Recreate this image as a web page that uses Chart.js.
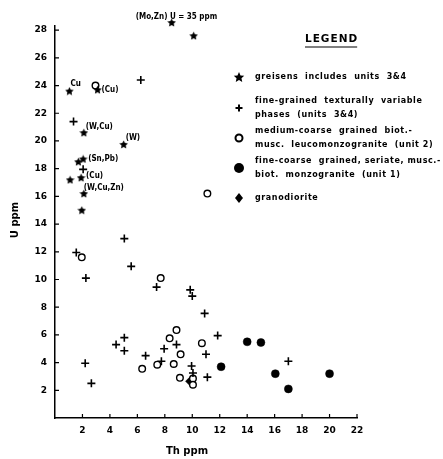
<!DOCTYPE html>
<html>
<head>
<meta charset="utf-8">
<script src="https://cdn.jsdelivr.net/npm/chart.js@4"></script>
<style>
  html, body { margin: 0; padding: 0; background: #fff; }
  #wrap { width: 443px; height: 459px; position: relative; }
</style>
</head>
<body>
<div id="wrap"><canvas id="c" width="443" height="459"></canvas></div>
<script>
// Th ppm (x) vs U ppm (y)
const greisenTh = [8.5, 10.1, 1.05, 3.1, 2.1, 5.0, 1.7, 2.05, 1.9, 1.1, 2.1, 1.95];
const greisenU  = [28.55, 27.6, 23.6, 23.7, 20.6, 19.75, 18.5, 18.7, 17.35, 17.2, 16.2, 15.0];
const greisenNotes = ['(Mo,Zn) U = 35 ppm', '', 'Cu', '(Cu)', '(W,Cu)', '(W)', '', '(Sn,Pb)', '(Cu)', '', '(W,Cu,Zn)', ''];

const fineTh = [6.25, 1.35, 2.05, 1.55, 2.25, 5.05, 5.55, 7.4, 9.85, 10.0, 10.9, 4.45, 5.05, 5.05, 6.6,
                7.95, 7.75, 8.85, 2.2, 2.65, 9.95, 10.05, 11.85, 11.0, 11.1, 17.0];
const fineU  = [24.4, 21.4, 17.95, 11.95, 10.1, 12.95, 10.95, 9.45, 9.25, 8.8, 7.55, 5.3, 5.8, 4.85, 4.5,
                5.0, 4.1, 5.3, 3.95, 2.5, 3.75, 3.25, 5.95, 4.6, 2.95, 4.1];

const unit2Th = [2.95, 11.1, 1.95, 7.7, 8.85, 8.35, 9.15, 7.45, 8.65, 6.35, 9.1, 10.05, 10.05, 10.7];
const unit2U  = [24.0, 16.2, 11.6, 10.1, 6.35, 5.75, 4.6, 3.85, 3.9, 3.55, 2.9, 2.85, 2.4, 5.4];

const unit1Th = [14.0, 15.0, 12.1, 16.05, 17.0, 20.0];
const unit1U  = [5.5, 5.45, 3.7, 3.2, 2.1, 3.2];

const granoTh = [9.8];
const granoU  = [2.65];

const xTicks = [2, 4, 6, 8, 10, 12, 14, 16, 18, 20, 22];
const yTicks = [2, 4, 6, 8, 10, 12, 14, 16, 18, 20, 22, 24, 26, 28];

const legendItems = [
  { style: 'star',   lines: ['greisens  includes  units  3&4'] },
  { style: 'cross',  lines: ['fine-grained  texturally  variable', 'phases  (units  3&4)'] },
  { style: 'open',   lines: ['medium-coarse  grained  biot.-', 'musc.  leucomonzogranite  (unit 2)'] },
  { style: 'filled', lines: ['fine-coarse  grained, seriate, musc.-', 'biot.  monzogranite  (unit 1)'] },
  { style: 'diamond', lines: ['granodiorite'] }
];

const FONT = '"DejaVu Sans", sans-serif';
const FONT_C = '"DejaVu Sans Condensed", "DejaVu Sans", sans-serif';

function pts(xs, ys) { return xs.map((x, i) => ({ x: x, y: ys[i] })); }

// filled five-point star as a point image
function starPath(ctx, cx, cy, R, r) {
  ctx.beginPath();
  for (let i = 0; i < 10; i++) {
    const a = -Math.PI / 2 + i * Math.PI / 5;
    const rad = i % 2 === 0 ? R : r;
    const px = cx + rad * Math.cos(a), py = cy + rad * Math.sin(a);
    if (i === 0) ctx.moveTo(px, py); else ctx.lineTo(px, py);
  }
  ctx.closePath();
}
const starImg = document.createElement('canvas');
starImg.width = 9; starImg.height = 9;
(function () {
  const g = starImg.getContext('2d');
  g.fillStyle = '#000';
  starPath(g, 4.5, 4.9, 4.5, 2.2);
  g.fill();
})();

function drawMarker(ctx, style, x, y) {
  ctx.save();
  ctx.fillStyle = '#000';
  ctx.strokeStyle = '#000';
  if (style === 'star') {
    starPath(ctx, x, y + 0.5, 5.5, 2.6);
    ctx.fill();
  } else if (style === 'cross') {
    ctx.lineWidth = 2;
    ctx.beginPath();
    ctx.moveTo(x - 3.5, y); ctx.lineTo(x + 3.5, y);
    ctx.moveTo(x, y - 3.5); ctx.lineTo(x, y + 3.5);
    ctx.stroke();
  } else if (style === 'open') {
    ctx.lineWidth = 2;
    ctx.beginPath(); ctx.arc(x, y, 3.5, 0, Math.PI * 2); ctx.stroke();
  } else if (style === 'filled') {
    ctx.beginPath(); ctx.arc(x, y, 5, 0, Math.PI * 2); ctx.fill();
  } else if (style === 'diamond') {
    ctx.beginPath();
    ctx.moveTo(x, y - 5); ctx.lineTo(x + 4, y); ctx.lineTo(x, y + 5); ctx.lineTo(x - 4, y);
    ctx.closePath(); ctx.fill();
  }
  ctx.restore();
}

// annotations, legend, axis titles and inward tick marks
const extras = {
  id: 'extras',
  afterDraw(chart) {
    const ctx = chart.ctx;
    const xs = chart.scales.x, ys = chart.scales.y;
    const ax = xs.left, ay = ys.bottom;
    ctx.save();
    ctx.strokeStyle = '#000';
    ctx.lineWidth = 1.2;
    ctx.beginPath();
    yTicks.forEach(v => { const p = ys.getPixelForValue(v); ctx.moveTo(ax, p); ctx.lineTo(ax + 4, p); });
    xTicks.forEach(v => { const p = xs.getPixelForValue(v); ctx.moveTo(p, ay); ctx.lineTo(p, ay - 4); });
    ctx.stroke();

    ctx.fillStyle = '#000';
    ctx.textBaseline = 'middle';
    ctx.textAlign = 'left';
    ctx.font = 'bold 8px ' + FONT_C;
    const offs = [[-36, -6], null, [1, -7], [4, 0], [2, -6], [2, -7], null, [5, 0], [5, -2], null, [0, -6], null];
    greisenNotes.forEach((t, i) => {
      if (!t) return;
      const px = xs.getPixelForValue(greisenTh[i]), py = ys.getPixelForValue(greisenU[i]);
      ctx.fillText(t, px + offs[i][0], py + offs[i][1]);
    });

    // axis titles
    ctx.font = 'bold 10px ' + FONT;
    ctx.textAlign = 'center';
    ctx.fillText('Th ppm', 187, 451);
    ctx.save();
    ctx.translate(15, 220);
    ctx.rotate(-Math.PI / 2);
    ctx.fillText('U ppm', 0, 0);
    ctx.restore();

    // legend
    ctx.font = 'bold 10.5px ' + FONT;
    ctx.textAlign = 'left';
    ctx.letterSpacing = '1px';
    const lw = ctx.measureText('LEGEND').width;
    ctx.fillText('LEGEND', 305, 39);
    ctx.lineWidth = 1.2;
    ctx.beginPath(); ctx.moveTo(305, 47); ctx.lineTo(305 + lw - 1, 47); ctx.stroke();

    ctx.font = 'bold 8px ' + FONT;
    ctx.letterSpacing = '0.6px';
    const rowY = [77, 108, 138, 168, 198];
    legendItems.forEach((it, i) => {
      drawMarker(ctx, it.style, 239, rowY[i]);
      if (it.lines.length === 1) {
        ctx.fillText(it.lines[0], 255, rowY[i]);
      } else {
        ctx.fillText(it.lines[0], 255, rowY[i] - 7);
        ctx.fillText(it.lines[1], 255, rowY[i] + 7);
      }
    });
    ctx.letterSpacing = '0px';
    ctx.restore();
  }
};

new Chart(document.getElementById('c').getContext('2d'), {
  type: 'scatter',
  data: {
    datasets: [
      { label: 'greisens', data: pts(greisenTh, greisenU), pointStyle: starImg, clip: false },
      { label: 'fine-grained', data: pts(fineTh, fineU), pointStyle: 'cross', pointRadius: 4,
        borderColor: '#000', borderWidth: 1.6, clip: false },
      { label: 'unit 2', data: pts(unit2Th, unit2U), pointStyle: 'circle', pointRadius: 3.3,
        backgroundColor: '#fff', borderColor: '#000', borderWidth: 1.4, clip: false },
      { label: 'unit 1', data: pts(unit1Th, unit1U), pointStyle: 'circle', pointRadius: 4,
        backgroundColor: '#000', borderColor: '#000', borderWidth: 0.5, clip: false },
      { label: 'granodiorite', data: pts(granoTh, granoU), pointStyle: 'rectRot', pointRadius: 4,
        backgroundColor: '#000', borderColor: '#000', borderWidth: 0.5, clip: false }
    ]
  },
  options: {
    responsive: false,
    animation: false,
    events: [],
    layout: { padding: { left: 0, right: 86, top: 26, bottom: 0 } },
    plugins: { legend: { display: false }, tooltip: { enabled: false } },
    scales: {
      x: {
        type: 'linear', min: 0, max: 22,
        afterFit: s => { s.height = 41; },
        border: { display: true, color: '#000', width: 1.5 },
        grid: { drawOnChartArea: false, drawTicks: false },
        ticks: {
          stepSize: 2, padding: 7, color: '#000',
          font: { family: FONT, size: 9, weight: 'bold' },
          callback: v => (v === 0 ? '' : v)
        }
      },
      y: {
        type: 'linear', min: 0, max: 28.3,
        afterFit: s => { s.width = 55; },
        border: { display: true, color: '#000', width: 1.5 },
        grid: { drawOnChartArea: false, drawTicks: false },
        ticks: {
          stepSize: 2, includeBounds: false, padding: 8, color: '#000',
          font: { family: FONT, size: 9, weight: 'bold' },
          callback: v => (v === 0 ? '' : v)
        }
      }
    }
  },
  plugins: [extras]
});
</script>
</body>
</html>
